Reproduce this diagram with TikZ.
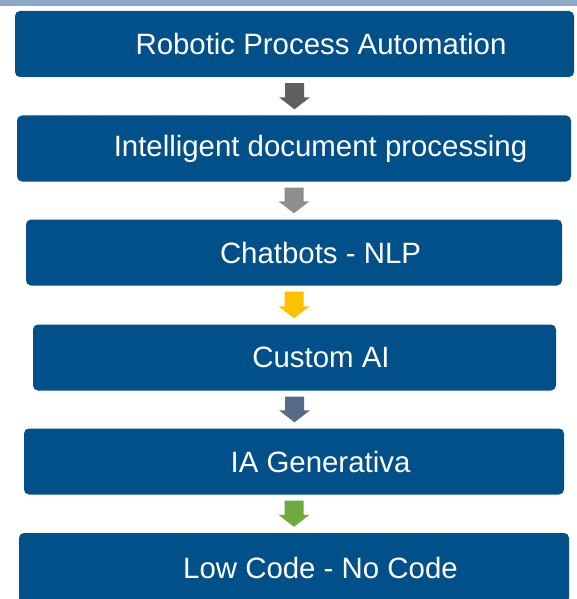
\documentclass[tikz,border=0pt]{standalone}
\usepackage{fontspec}
\setmainfont{Liberation Sans}
\usetikzlibrary{calc}
\definecolor{boxblue}{HTML}{02508A}
\definecolor{topstrip}{HTML}{8CAAC8}
\definecolor{arrA}{HTML}{606060}
\definecolor{arrB}{HTML}{8E8E8E}
\definecolor{arrC}{HTML}{FFC000}
\definecolor{arrD}{HTML}{576B87}
\definecolor{arrE}{HTML}{6DAB3E}
\tikzset{
  stagebox/.style={fill=boxblue, rounded corners=5pt, inner sep=0pt,
    minimum height=66pt, text=white,
    font=\fontsize{29.4}{34}\selectfont},
}
\newcommand\blockarr[3]{%
  \coordinate (t) at ($(#1.south)+(0,6)$);
  \coordinate (p) at ($(#2.north)+(0,-6)$);
  \fill[#3] ($(t)+(-9.5,0)$) -- ($(t)+(9.5,0)$) -- ($(t|-p)+(9.5,-12)$)
    -- ($(t|-p)+(15.5,-12)$) -- (t|-p) -- ($(t|-p)+(-15.5,-12)$)
    -- ($(t|-p)+(-9.5,-12)$) -- cycle;}
\begin{document}
\begin{tikzpicture}[x=1pt,y=-1pt]
\useasboundingbox (0,0) rectangle (577,599);
\fill[topstrip] (0,0) rectangle (577,6);
\node[stagebox, minimum width=559pt] (b1) at (294.5,44) {\hspace*{53pt}Robotic Process Automation};
\node[stagebox, minimum width=554pt] (b2) at (294,148.5) {\hspace*{53pt}Intelligent document processing};
\node[stagebox, minimum width=536pt] (b3) at (294,252.5) {\hspace*{53pt}Chatbots - NLP};
\node[stagebox, minimum width=523pt] (b4) at (294.5,357.5) {\hspace*{53pt}Custom AI};
\node[stagebox, minimum width=540pt] (b5) at (294,461.5) {\hspace*{53pt}IA Generativa};
\node[stagebox, minimum width=550pt, minimum height=70pt] (b6) at (294,568) {\hspace*{53pt}Low Code - No Code};
\blockarr{b1}{b2}{arrA}
\blockarr{b2}{b3}{arrB}
\blockarr{b3}{b4}{arrC}
\blockarr{b4}{b5}{arrD}
\blockarr{b5}{b6}{arrE}
\end{tikzpicture}
\end{document}
